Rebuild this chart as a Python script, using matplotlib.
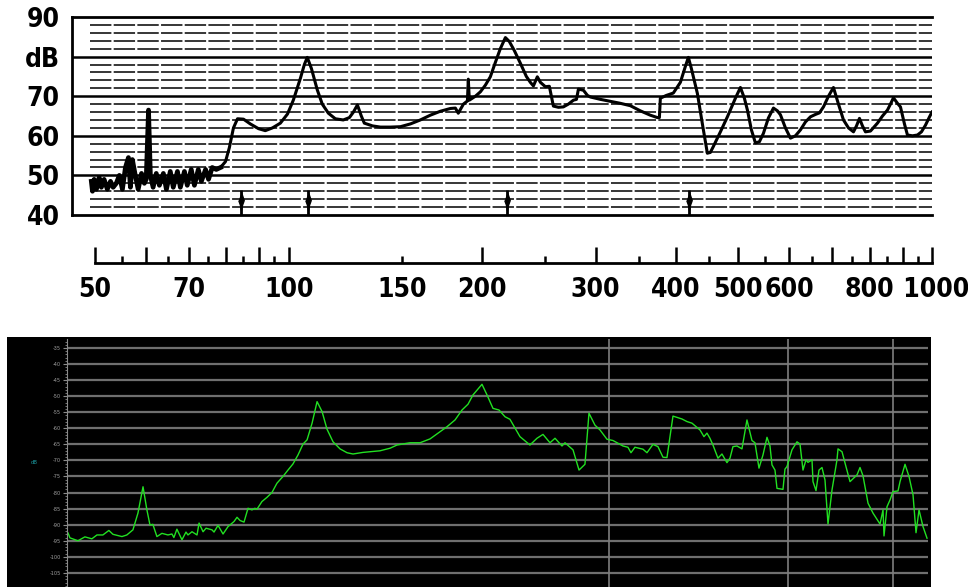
import numpy as np
import matplotlib
matplotlib.use("Agg")
import matplotlib.pyplot as plt
from matplotlib import font_manager as fm
from matplotlib.patches import Rectangle

# --- top panel: measured response (Hz, dB) ---
top_freq = [49.3, 49.5, 49.8, 50.2, 50.7, 51.1, 51.6, 52.2, 52.8, 53.3, 53.9, 54.5, 55.1,
            55.7, 56.3, 56.7, 57.1, 57.7, 58.3, 59.0, 59.6, 60.0, 60.5, 60.9, 61.5, 62.2,
            62.9, 63.8, 64.5, 65.4, 66.1, 67.1, 67.8, 68.8, 69.5, 70.5, 71.3, 72.3, 73.1,
            74.2, 75.0, 76.0, 77.1, 78.3, 79.7, 80.8, 82.0, 83.2, 85.0, 87.1, 89.7, 91.9,
            94.3, 97.0, 99.5, 101.6, 104.2, 105.7, 106.8, 108.4, 110.7, 112.7, 115.2, 118.1,
            121.5, 124.2, 126.0, 127.8, 129.6, 131.0, 134.9, 138.8, 143.8, 149.1, 154.5,
            160.1, 165.9, 172.0, 178.3, 181.5, 183.4, 186.8, 189.5, 190.1, 190.8, 195.0,
            198.5, 202.1, 205.7, 209.4, 213.2, 217.1, 220.2, 224.2, 229.1, 234.0, 237.4,
            240.0, 243.4, 246.1, 250.5, 254.1, 257.8, 262.5, 267.2, 272.0, 277.0, 280.0,
            282.0, 287.1, 291.2, 294.3, 305.1, 316.2, 327.7, 339.6, 352.0, 364.8, 374.1,
            376.8, 378.1, 386.3, 396.1, 406.2, 413.5, 418.0, 422.5, 431.7, 439.5, 447.4,
            452.2, 457.1, 468.8, 480.7, 494.7, 503.6, 510.8, 516.4, 523.8, 531.4, 539.0,
            546.8, 556.7, 566.8, 575.0, 581.2, 591.7, 602.4, 613.3, 624.4, 635.7, 647.2,
            658.9, 668.4, 678.0, 690.3, 702.7, 715.4, 728.4, 741.5, 754.9, 763.1, 771.3,
            779.6, 788.0, 802.3, 822.6, 837.5, 852.6, 861.8, 871.1, 883.7, 893.2, 906.1,
            915.9, 932.5, 949.3, 963.0, 977.0, 991.2, 1000.0]
top_db = [48.5, 46.0, 49.0, 46.5, 49.5, 47.0, 49.0, 46.5, 48.5, 47.0, 48.0, 50.0, 46.5,
          52.0, 54.5, 47.0, 54.0, 50.0, 46.5, 50.5, 48.0, 49.0, 66.5, 50.0, 47.0, 50.5,
          47.5, 50.5, 46.5, 51.0, 47.0, 51.0, 47.0, 51.0, 47.5, 51.5, 47.5, 51.5, 48.5,
          51.5, 49.0, 52.0, 51.5, 52.0, 53.5, 57.0, 62.0, 64.3, 64.2, 63.0, 61.8, 61.3,
          62.0, 63.2, 65.5, 69.0, 74.5, 78.0, 79.8, 77.0, 71.6, 68.0, 65.7, 64.3,
          64.0, 64.6, 66.0, 67.8, 65.0, 63.2, 62.5, 62.2, 62.2, 62.3, 63.0,
          64.0, 65.2, 66.2, 66.9, 67.0, 65.7, 68.0, 68.8, 74.3, 69.0, 70.0,
          71.1, 72.8, 74.9, 78.5, 82.0, 84.8, 83.8, 81.5, 78.3, 75.0, 73.5,
          72.6, 74.9, 73.5, 72.4, 72.5, 67.5, 67.2, 67.3, 68.0, 69.0, 69.2,
          71.8, 71.5, 70.2, 69.8, 69.2, 68.7, 68.2, 67.6, 66.3, 65.2, 64.6,
          64.6, 69.5, 70.2, 70.8, 73.5, 77.5, 79.8, 77.0, 70.7, 63.0, 55.6,
          55.8, 57.3, 61.0, 64.8, 69.5, 72.2, 69.5, 66.5, 61.5, 58.2, 58.5,
          60.6, 64.5, 67.0, 66.3, 65.3, 62.0, 59.4, 60.0, 61.5, 63.5, 64.8,
          65.4, 65.8, 67.3, 70.0, 72.2, 68.0, 64.0, 62.0, 61.0, 62.5, 64.4,
          62.5, 61.0, 61.2, 63.2, 65.0, 66.5, 68.0, 69.6, 68.2, 67.3, 63.0,
          60.2, 60.0, 60.2, 61.0, 62.7, 64.8, 66.0]
arrow_freq = [84.3, 107.0, 218.7, 419.4]

y_ticks = [40, 50, 60, 70, 80, 90]
y_labels = ["40", "50", "60", "70", "dB", "90"]
scale_major = [50, 60, 70, 80, 90, 100, 200, 300, 400, 500, 600, 700, 800, 900, 1000]
scale_major_labels = ["50", "", "70", "", "", "100", "200", "300", "400", "500", "600",
                      "", "800", "", " 1000"]
scale_minor = [55, 65, 75, 85, 95, 150, 250, 350, 450, 550, 650, 750, 850, 950]
scale_minor_labels = ["", "", "", "", "", "150", "", "", "", "", "", "", "", ""]

# --- bottom panel: analyser trace (Hz, dB) ---
low_freq = [123.3, 124.2, 128.1, 131.6, 135.2, 137.9, 141.1, 144.4, 146.7, 151.9, 154.8,
            158.5, 161.6, 164.8, 167.3, 169.3, 171.2, 173.9, 177.3, 181.5, 184.3, 185.7,
            187.9, 191.6, 194.6, 196.1, 199.2, 203.1, 204.7, 207.9, 210.3, 215.2, 216.9,
            220.3, 224.6, 229.0, 234.4, 237.1, 239.9, 243.6, 247.4, 251.2, 254.1, 256.1,
            261.1, 266.2, 271.4, 276.7, 283.2, 288.8, 294.4, 300.2, 306.1, 310.9, 317.0,
            323.2, 329.5, 335.9, 343.8, 353.2, 362.9, 371.4, 386.0, 412.3, 428.6, 440.4,
            463.1, 481.4, 500.4, 516.1, 534.4, 551.2, 566.3, 579.6, 590.9, 611.8, 623.8,
            638.4, 653.4, 668.8, 681.8, 708.7, 736.6, 756.9, 774.7, 796.0, 811.6, 833.8,
            843.6, 870.1, 890.6, 911.3, 925.6, 947.2, 965.8, 992.3, 1015.6, 1055.7, 1076.3,
            1088.9, 1105.8, 1140.6, 1158.5, 1185.7, 1208.8, 1232.4, 1251.7, 1281.1, 1326.5,
            1352.4, 1378.8, 1422.1, 1444.3, 1461.2, 1478.2, 1495.5, 1524.7, 1548.5, 1578.8,
            1597.2, 1615.9, 1641.1, 1673.1, 1705.8, 1739.1, 1759.4, 1787.0, 1814.9, 1843.2,
            1864.8, 1879.3, 1901.2, 1916.0, 1961.0, 1976.2, 1991.6, 2030.5, 2070.2, 2094.4,
            2118.8, 2143.5, 2160.2, 2194.0, 2202.5, 2228.2, 2254.2, 2280.5, 2307.2, 2334.1,
            2370.5, 2416.8, 2426.2, 2464.0, 2541.6, 2611.4, 2641.9, 2672.7, 2725.0, 2778.2,
            2854.5, 2887.8, 2899.0, 2932.9, 2967.1, 3001.8, 3060.5, 3084.3, 3144.5, 3193.6,
            3243.4, 3281.3, 3319.6, 3371.3, 3424.0]
low_db = [-92.6, -94.1, -95.0, -93.8, -94.4, -93.2, -93.2, -91.8, -93.0, -93.7, -93.2,
          -91.6, -86.4, -78.2, -85.4, -90.1, -89.9, -93.7, -92.7, -93.2, -92.9, -94.0,
          -91.4, -94.7, -92.3, -93.2, -92.2, -93.2, -89.5, -92.2, -91.1, -91.6, -92.3,
          -90.2, -92.9, -90.6, -89.0, -87.7, -88.7, -89.2, -84.9, -85.4, -84.9, -85.2,
          -82.8, -81.5, -80.0, -77.1, -75.0, -73.0, -71.1, -68.3, -64.9, -63.6, -58.4,
          -51.7, -54.8, -60.3, -64.2, -66.4, -67.6, -68.0, -67.5, -67.0, -66.2, -65.2,
          -64.5, -64.5, -63.3, -61.5, -59.5, -57.4, -54.3, -52.5, -49.6, -46.3, -49.6,
          -53.8, -54.3, -56.4, -57.2, -62.6, -65.2, -63.1, -61.9, -64.5, -63.1, -65.5,
          -64.5, -66.7, -73.0, -71.2, -55.3, -59.0, -60.5, -63.4, -63.8, -65.5, -65.9,
          -67.6, -65.9, -66.5, -67.6, -65.0, -65.7, -69.0, -69.1, -56.2, -57.1,
          -57.9, -58.4, -60.5, -62.6, -61.5, -63.1, -65.2, -69.3, -68.0, -70.7,
          -69.3, -65.7, -65.5, -66.4, -57.4, -63.8, -64.5, -72.4, -68.3, -62.8,
          -65.5, -71.4, -73.0, -78.7, -79.0, -72.7, -71.9, -66.7, -64.2, -64.9,
          -73.0, -69.8, -70.6, -69.8, -76.6, -79.4, -73.0, -72.2, -76.1, -89.8,
          -79.2, -69.8, -66.4, -67.3, -76.6, -74.5, -72.2, -74.8, -83.3, -86.4,
          -89.8, -85.4, -93.5, -84.4, -82.3, -79.7, -79.5, -76.6, -71.2, -75.0,
          -80.7, -92.5, -85.4, -90.6, -94.2]
low_grid_db = [-35, -40, -45, -50, -55, -60, -65, -70, -75, -80, -85, -90, -95, -100, -105]
low_grid_freq = [1000, 2000, 3000]

# pick the narrowest bold face we have for the scanned-looking labels
fonts = fm.fontManager.ttflist
names = {f.name for f in fonts}
cond = [f for f in fonts if f.name == "DejaVu Sans" and "Condensed" in f.fname]
if "Liberation Sans Narrow" in names:
    LAB = dict(family="Liberation Sans Narrow", weight="bold", size=21)
elif cond:
    LAB = dict(family="DejaVu Sans", stretch="condensed", weight="bold", size=19)
else:
    LAB = dict(family="Liberation Sans", weight="bold", size=18.5)

W, H = 968, 587
fig = plt.figure(figsize=(W / 100, H / 100), dpi=100, facecolor="white")

# ---- top chart ----
ax = fig.add_axes([72 / W, (H - 215) / H, 860 / W, 198 / H])
ax.set_xscale("log")
ax.set_xlim(46.0, 1000)
ax.set_ylim(40, 90)
for s in ["left", "top", "bottom"]:
    ax.spines[s].set_linewidth(2)
ax.spines["right"].set_visible(False)
for y in [50, 60, 70, 80]:
    ax.axhline(y, color="black", lw=1.8)
for y in range(42, 90, 2):
    if y % 10:
        ax.hlines(y, 49.1, 1000, color="black", lw=1.1, linestyle=(0, (14, 1.5)))
ax.plot(top_freq, top_db, color="black", lw=2.2, solid_joinstyle="round")
f = np.array(top_freq)
d = np.array(top_db)
m = f < 79
ax.plot(f[m], d[m], color="black", lw=3.4, solid_joinstyle="round")
arrow = [(0, 1), (0.3, 0.1), (0.12, -0.4), (0, -1), (-0.12, -0.4), (-0.3, 0.1)]
for fr in arrow_freq:
    ax.vlines(fr, 40, 46.3, color="black", lw=2)
    ax.plot(fr, 43.5, marker=arrow, color="black", markersize=13)
ax.set_xticks([])
ax.set_xticks([], minor=True)
ax.set_yticks(y_ticks, y_labels)
ax.tick_params(axis="y", length=0, pad=9)
for t in ax.get_yticklabels():
    t.set(**LAB)

# ---- frequency scale ----
sc = fig.add_axes([95 / W, (H - 263) / H, 837 / W, 0.04])
sc.set_xscale("log")
sc.set_xlim(50, 1000)
for s in ["left", "right", "top"]:
    sc.spines[s].set_visible(False)
sc.spines["bottom"].set_linewidth(2)
sc.set_yticks([])
sc.set_xticks(scale_major, scale_major_labels)
sc.set_xticks(scale_minor, scale_minor_labels, minor=True)
sc.tick_params(axis="x", which="major", direction="in", length=11.5, width=1.8, pad=10)
sc.tick_params(axis="x", which="minor", direction="in", length=5, width=1.8, pad=10)
for t in sc.get_xticklabels() + sc.get_xticklabels(minor=True):
    t.set(**LAB)

# ---- bottom analyser panel ----
fig.patches.append(Rectangle((7 / W, 0), 924 / W, 250 / H, transform=fig.transFigure,
                             facecolor="black", edgecolor="none", zorder=-1))
bx = fig.add_axes([67 / W, 0, 861 / W, 248 / H], facecolor="black")
bx.set_xscale("log")
bx.set_xlim(122.8, 3437)
bx.set_ylim(-109.4, -32.2)
for s in ["right", "top", "bottom"]:
    bx.spines[s].set_visible(False)
bx.spines["left"].set_color("#8a8a8a")
for y in low_grid_db:
    bx.axhline(y, color="#6f6f6f", lw=1.6)
for x in low_grid_freq:
    bx.axvline(x, color="#7d7d7d", lw=1.2)
bx.plot(low_freq, low_db, color="#22e022", lw=1.0)
bx.set_xticks([])
bx.set_xticks([], minor=True)
bx.set_yticks(low_grid_db, [str(v) for v in low_grid_db])
bx.set_yticks(np.arange(-109, -32, 1), minor=True)
bx.tick_params(axis="y", which="major", length=3, color="#8a8a8a", labelsize=3.6,
               labelcolor="#a0a0a0", pad=1.5)
bx.tick_params(axis="y", which="minor", length=1.5, color="#8a8a8a")
fig.text(34 / W, (H - 462) / H, "dB", fontsize=3.8, color="#1b9aa0",
         ha="center", va="center")

fig.savefig("out.png", dpi=100, facecolor="white")
